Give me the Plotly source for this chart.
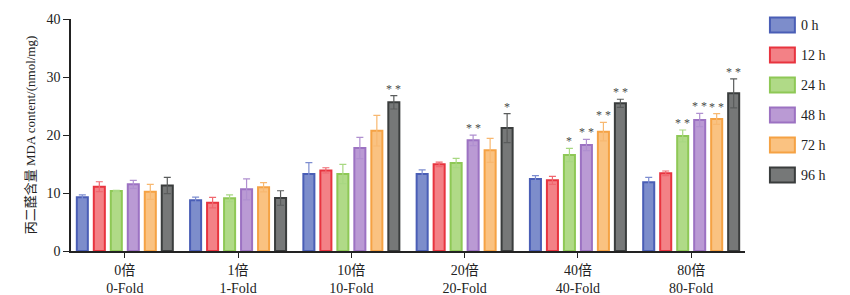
import plotly.graph_objects as go

categories = ["0倍<br>0-Fold", "1倍<br>1-Fold", "10倍<br>10-Fold",
              "20倍<br>20-Fold", "40倍<br>40-Fold", "80倍<br>80-Fold"]
series_names = ["0 h", "12 h", "24 h", "48 h", "72 h", "96 h"]

v_0h = [9.26, 8.74, 13.28, 13.28, 12.41, 11.84]
v_12h = [11.09, 8.33, 13.90, 14.94, 12.18, 13.39]
v_24h = [10.34, 9.08, 13.28, 15.17, 16.55, 19.83]
v_48h = [11.49, 10.63, 17.76, 19.08, 18.28, 22.59]
v_72h = [10.20, 10.98, 20.75, 17.36, 20.57, 22.76]
v_96h = [11.30, 9.14, 25.63, 21.20, 25.46, 27.19]

e_0h = [0.40, 0.55, 1.95, 0.70, 0.57, 0.86]
e_12h = [0.85, 0.90, 0.45, 0.40, 0.70, 0.40]
e_24h = [0.12, 0.58, 1.65, 0.80, 1.15, 1.03]
e_48h = [0.70, 1.80, 1.84, 0.90, 0.97, 1.15]
e_72h = [1.30, 0.80, 2.65, 2.07, 1.60, 0.92]
e_96h = [1.40, 1.25, 1.15, 2.50, 0.70, 2.50]

sig_0h = ["", "", "", "", "", ""]
sig_12h = ["", "", "", "", "", ""]
sig_24h = ["", "", "", "", "*", "**"]
sig_48h = ["", "", "", "**", "**", "**"]
sig_72h = ["", "", "", "", "**", "**"]
sig_96h = ["", "", "**", "*", "**", "**"]

values = [v_0h, v_12h, v_24h, v_48h, v_72h, v_96h]
errors = [e_0h, e_12h, e_24h, e_48h, e_72h, e_96h]
sigs = [sig_0h, sig_12h, sig_24h, sig_48h, sig_72h, sig_96h]

fills = ["rgba(82,103,186,0.75)", "rgba(238,80,88,0.72)", "rgba(150,205,95,0.75)",
         "rgba(160,115,195,0.72)", "rgba(248,170,80,0.72)", "rgba(80,82,82,0.78)"]
borders = ["#4a5eb6", "#e8343f", "#8ec856", "#9c72c2", "#f5a244", "#3a3d3d"]
errcols = ["#7d8dd0", "#f06870", "#a8d882", "#b090d0", "#f8b870", "#5a5c5c"]

serif = "Liberation Serif, Noto Sans CJK SC, serif"
x = list(range(len(categories)))

fig = go.Figure()
for i, name in enumerate(series_names):
    fig.add_trace(go.Bar(
        x=x, y=values[i], name=name,
        marker=dict(color=fills[i], line=dict(color=borders[i], width=2)),
        error_y=dict(type="data", array=errors[i], visible=True,
                     color=errcols[i], thickness=1.2, width=3.5),
        showlegend=False,
    ))

bargap = 0.1
n = len(series_names)
slot = (1 - bargap) / n
for i in range(n):
    off = -(1 - bargap) / 2 + slot * (i + 0.5)
    for j in range(len(categories)):
        if sigs[i][j]:
            fig.add_annotation(
                x=j + off, y=values[i][j] + errors[i][j],
                text=" ".join(list(sigs[i][j])), showarrow=False,
                yanchor="bottom", yshift=-2,
                font=dict(family=serif, size=12, color="#4a4a4a"))

# legend drawn as boxes + labels on the right
for i, name in enumerate(series_names):
    yc = 0.974 - i * (30 / 232)
    fig.add_shape(type="rect", xref="paper", yref="paper",
                  x0=1.037, x1=1.074, y0=yc - 0.032, y1=yc + 0.032,
                  fillcolor=fills[i], line=dict(color=borders[i], width=2))
    fig.add_annotation(xref="paper", yref="paper", x=1.080, y=yc,
                       text=name, showarrow=False, xanchor="left", yanchor="middle",
                       font=dict(family=serif, size=14, color="#222222"))

fig.update_layout(
    width=850, height=295,
    margin=dict(l=71, r=105, t=19, b=44, autoexpand=False),
    plot_bgcolor="white", paper_bgcolor="white",
    barmode="group", bargap=bargap, bargroupgap=0.35,
    font=dict(family=serif, size=13, color="#222222"),
    xaxis=dict(range=[-0.475, 5.475], tickvals=x, ticktext=categories,
               showline=True, linecolor="#222222", linewidth=1.5,
               ticks="outside", ticklen=5, tickcolor="#222222",
               showgrid=False, zeroline=False, automargin=False,
               tickfont=dict(family=serif, size=14)),
    yaxis=dict(range=[0, 40], tickvals=[0, 10, 20, 30, 40],
               showline=True, linecolor="#222222", linewidth=1.5,
               ticks="outside", ticklen=6, tickcolor="#222222",
               showgrid=False, zeroline=False, automargin=False,
               tickfont=dict(family=serif, size=14),
               title=dict(text="丙二醛含量 MDA content/(nmol/mg)",
                          font=dict(family=serif, size=13), standoff=8)),
)

fig.write_html("out.html", config={"displayModeBar": False},
               post_script="document.body.style.margin='0';")
